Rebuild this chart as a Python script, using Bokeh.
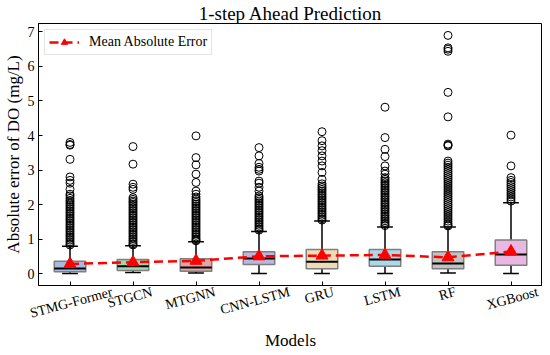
import math
from bokeh.plotting import figure
from bokeh.models import (ColumnDataSource, FixedTicker, Legend, LegendItem, Range1d, LinearAxis)
from bokeh.embed import file_html
from bokeh.resources import INLINE

models = ["STMG-Former", "STGCN", "MTGNN", "CNN-LSTM", "GRU", "LSTM", "RF", "XGBoost"]
q1 = [0.05, 0.09, 0.07, 0.26, 0.14, 0.21, 0.14, 0.24]
median = [0.15, 0.21, 0.18, 0.44, 0.34, 0.41, 0.29, 0.55]
q3 = [0.36, 0.41, 0.43, 0.63, 0.70, 0.70, 0.63, 0.97]
lower = [0.00, 0.03, 0.02, 0.00, 0.00, 0.00, 0.02, 0.00]
upper = [0.79, 0.81, 0.92, 1.22, 1.52, 1.35, 1.35, 2.05]
mae = [0.28, 0.33, 0.37, 0.50, 0.52, 0.54, 0.47, 0.64]

out_stmg = [3.80, 3.74, 3.72, 3.31, 2.80, 2.70, 2.62, 2.44, 2.30, 2.25, 2.18, 2.12, 2.07,
            2.02, 1.97, 1.92, 1.87, 1.82, 1.77, 1.72, 1.67, 1.62, 1.57, 1.52, 1.47, 1.42,
            1.37, 1.32, 1.27, 1.22, 1.17, 1.12, 1.07, 1.02, 0.97, 0.92, 0.87, 0.83]
out_stgcn = [3.68, 3.17, 2.59, 2.50, 2.44, 2.20, 2.15, 2.10, 2.06, 2.01, 1.96, 1.91, 1.86,
             1.81, 1.76, 1.71, 1.66, 1.61, 1.56, 1.51, 1.46, 1.41, 1.36, 1.31, 1.26, 1.21,
             1.16, 1.11, 1.06, 1.01, 0.96, 0.91, 0.86, 0.83]
out_mtgnn = [3.99, 3.36, 3.15, 2.88, 2.64, 2.39, 2.30, 2.22, 2.16, 2.11, 2.06, 2.01, 1.96,
             1.91, 1.86, 1.81, 1.76, 1.71, 1.66, 1.61, 1.56, 1.51, 1.46, 1.41, 1.36, 1.31,
             1.26, 1.21, 1.16, 1.11, 1.06, 1.01, 0.97, 0.95]
out_cnnlstm = [3.65, 3.41, 3.19, 3.08, 3.02, 2.97, 2.68, 2.62, 2.50, 2.39, 2.25, 2.20, 2.15,
               2.10, 2.05, 2.00, 1.95, 1.90, 1.85, 1.80, 1.75, 1.70, 1.65, 1.60, 1.55, 1.50,
               1.45, 1.40, 1.35, 1.30, 1.26]
out_gru = [4.11, 3.85, 3.70, 3.56, 3.41, 3.26, 3.12, 2.93, 2.73, 2.60, 2.54, 2.49, 2.44,
           2.39, 2.34, 2.29, 2.24, 2.19, 2.14, 2.09, 2.04, 1.99, 1.94, 1.89, 1.84, 1.79,
           1.74, 1.69, 1.64, 1.59, 1.55]
out_lstm = [4.82, 3.94, 3.60, 3.39, 3.12, 2.97, 2.88, 2.78, 2.73, 2.68, 2.63, 2.58, 2.53,
            2.48, 2.43, 2.38, 2.33, 2.28, 2.23, 2.18, 2.13, 2.08, 2.03, 1.98, 1.93, 1.88,
            1.83, 1.78, 1.73, 1.68, 1.63, 1.58, 1.53, 1.48, 1.43, 1.39]
out_rf = [6.90, 6.54, 6.50, 6.44, 5.25, 4.54, 3.75, 3.72, 3.70, 3.26, 3.20, 3.14, 3.08,
          3.02, 2.96, 2.90, 2.84, 2.78, 2.72, 2.66, 2.60, 2.54, 2.48, 2.42, 2.36, 2.30,
          2.24, 2.18, 2.12, 2.06, 2.00, 1.94, 1.88, 1.82, 1.76, 1.70, 1.64, 1.58, 1.52,
          1.46, 1.41, 1.38]
out_xgb = [4.01, 3.12, 2.78, 2.70, 2.64, 2.58, 2.52, 2.46, 2.40, 2.34, 2.28, 2.22, 2.16, 2.10]
outliers = [out_stmg, out_stgcn, out_mtgnn, out_cnnlstm, out_gru, out_lstm, out_rf, out_xgb]

box_colors = ["#a6bbe2", "#a7d4ad", "#e2a4a4", "#bbb5df", "#eedcb6", "#acd8e8", "#c2c2c2", "#e9b8e2"]
y_ticks = [0, 1, 2, 3, 4, 5, 6, 7]

pos = list(range(1, len(models) + 1))
FONT = "Liberation Serif"
ANGLE = math.radians(15)
PX_PER_UNIT = 63.5      # approx. horizontal pixels per category slot
CHAR_W = 8.0            # approx. label character width in px at 14px

p = figure(width=542, height=352, output_backend="svg", toolbar_location=None,
           x_range=Range1d(0.5, 8.5), y_range=Range1d(-0.345, 7.245),
           title="1-step Ahead Prediction",
           min_border_left=29, min_border_right=0, min_border_top=0, min_border_bottom=20)

p.title.text_font = FONT
p.title.text_font_size = "19px"
p.title.text_font_style = "normal"
p.title.text_color = "black"
p.title.align = "center"
p.title.standoff = 0
p.title.offset = 0

p.xgrid.grid_line_color = None
p.ygrid.grid_line_color = None
p.outline_line_color = "black"
p.outline_line_width = 1

# boxes
src = ColumnDataSource(dict(x=pos, q1=q1, q3=q3, med=median, lo=lower, hi=upper,
                            color=box_colors,
                            cl=[x - 0.125 for x in pos], cr=[x + 0.125 for x in pos],
                            ml=[x - 0.25 for x in pos], mr=[x + 0.25 for x in pos]))
p.segment(x0="x", y0="q3", x1="x", y1="hi", source=src, line_color="black", line_width=1.5)
p.segment(x0="x", y0="q1", x1="x", y1="lo", source=src, line_color="black", line_width=1.5)
p.segment(x0="cl", y0="hi", x1="cr", y1="hi", source=src, line_color="black", line_width=1.5)
p.segment(x0="cl", y0="lo", x1="cr", y1="lo", source=src, line_color="black", line_width=1.5)
p.vbar(x="x", top="q3", bottom="q1", width=0.5, source=src, fill_color="color",
       line_color="#7f7f7f", line_width=1.5)
p.segment(x0="ml", y0="med", x1="mr", y1="med", source=src, line_color="black", line_width=2)

# outliers
ox, oy = [], []
for i, vals in enumerate(outliers):
    ox += [pos[i]] * len(vals)
    oy += vals
p.scatter(ox, oy, marker="circle", size=8, fill_color=None, line_color="black", line_width=1)

# mean absolute error
ln = p.line(pos, mae, line_color="#ff0000", line_width=2.5, line_dash="9 5")
mk = p.scatter(pos, mae, marker="triangle", size=12, fill_color="#ff0000", line_color="#ff0000")

legend = Legend(items=[LegendItem(label="Mean Absolute Error", renderers=[ln, mk])],
                location="top_left")
legend.label_text_font = FONT
legend.label_text_font_size = "14px"
legend.label_text_color = "black"
legend.glyph_width = 30
legend.glyph_height = 16
legend.label_standoff = 10
legend.padding = 4
legend.margin = 6
legend.border_line_color = "#cccccc"
legend.border_line_width = 1
legend.background_fill_alpha = 0.8
p.add_layout(legend)

# y axis
p.yaxis.ticker = FixedTicker(ticks=y_ticks)
p.yaxis.axis_label = "Absolute error of DO (mg/L)"

# x axis: tick marks only (labels drawn by a second axis, centred on the ticks)
p.xaxis.ticker = FixedTicker(ticks=pos)
p.xaxis.major_label_overrides = {x: "" for x in pos}
p.xaxis.major_label_standoff = 0

for ax in (p.xaxis, p.yaxis):
    ax.axis_label_text_font = FONT
    ax.axis_label_text_font_size = "17px"
    ax.axis_label_text_font_style = "normal"
    ax.axis_label_text_color = "black"
    ax.major_label_text_font = FONT
    ax.major_label_text_font_size = "14px"
    ax.major_label_text_color = "black"
    ax.major_tick_in = 4
    ax.major_tick_out = 0
    ax.minor_tick_line_color = None
    ax.axis_line_color = "black"
    ax.major_tick_line_color = "black"
p.yaxis.major_label_standoff = 4
p.yaxis.axis_label_standoff = 2

# label axis: bokeh right-aligns rotated labels, so anchor each one half a text width to the right
shift = [len(m) * CHAR_W / 2 * math.cos(ANGLE) / PX_PER_UNIT for m in models]
lab_pos = [x + s for x, s in zip(pos, shift)]
lab_axis = LinearAxis(ticker=FixedTicker(ticks=lab_pos),
                      major_label_overrides=dict(zip(lab_pos, models)),
                      major_label_orientation=ANGLE,
                      axis_label="Models")
lab_axis.axis_line_color = None
lab_axis.major_tick_line_color = None
lab_axis.minor_tick_line_color = None
lab_axis.major_tick_in = 0
lab_axis.major_tick_out = 0
lab_axis.major_label_standoff = 6
lab_axis.major_label_text_font = FONT
lab_axis.major_label_text_font_size = "14px"
lab_axis.major_label_text_color = "black"
lab_axis.axis_label_text_font = FONT
lab_axis.axis_label_text_font_size = "17px"
lab_axis.axis_label_text_font_style = "normal"
lab_axis.axis_label_text_color = "black"
lab_axis.axis_label_standoff = 0
p.add_layout(lab_axis, "below")

open("out.html", "w").write(file_html(p, INLINE))
